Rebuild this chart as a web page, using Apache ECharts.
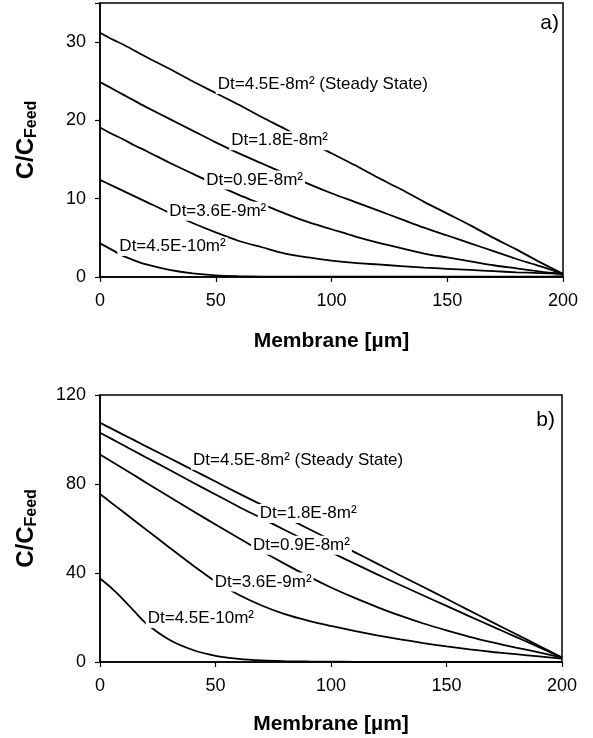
<!DOCTYPE html>
<html>
<head>
<meta charset="utf-8">
<script src="https://cdn.jsdelivr.net/npm/echarts@6.0.0/dist/echarts.min.js"></script>
<style>
  html, body { margin: 0; padding: 0; background: #fff; }
  #chart { width: 593px; height: 738px; }
</style>
</head>
<body>
<div id="chart"></div>
<script>
// membrane position [µm]
const membrane = [0, 5, 10, 15, 20, 30, 40, 50, 60, 70, 80, 90, 100, 110, 120, 130, 140, 150, 160, 170, 180, 190, 200]

const curveNames = [
  'Dt=4.5E-8m² (Steady State)',
  'Dt=1.8E-8m²',
  'Dt=0.9E-8m²',
  'Dt=3.6E-9m²',
  'Dt=4.5E-10m²'
]

// panel a) C/CFeed
const aSteady = [31.2, 30.4, 29.7, 28.9, 28.1, 26.6, 25.0, 23.5, 22.0, 20.4, 18.9, 17.3, 15.8, 14.3, 12.7, 11.2, 9.6, 8.1, 6.6, 5.0, 3.5, 1.9, 0.4]
const aDt18 = [24.9, 24.1, 23.3, 22.5, 21.7, 20.2, 18.7, 17.2, 15.8, 14.5, 13.2, 11.9, 10.7, 9.6, 8.5, 7.4, 6.3, 5.3, 4.3, 3.3, 2.3, 1.4, 0.4]
const aDt09 = [19.1, 18.3, 17.6, 16.8, 16.1, 14.6, 13.2, 11.8, 10.5, 9.3, 8.1, 7.0, 6.1, 5.2, 4.4, 3.7, 3.0, 2.5, 2.0, 1.5, 1.1, 0.7, 0.4]
const aDt36 = [12.4, 11.7, 11.0, 10.3, 9.6, 8.2, 6.9, 5.7, 4.6, 3.8, 3.0, 2.5, 2.1, 1.8, 1.6, 1.4, 1.2, 1.05, 0.9, 0.75, 0.6, 0.5, 0.4]
const aDt045 = [4.3, 3.5, 2.7, 2.1, 1.6, 0.9, 0.45, 0.2, 0.1, 0.06, 0.04, 0.03, 0.03, 0.03, 0.03, 0.03, 0.03, 0.03, 0.03, 0.03, 0.03, 0.03, 0.1]

// panel b) C/CFeed
const bSteady = [107.5, 104.9, 102.2, 99.6, 96.9, 91.7, 86.4, 81.1, 75.8, 70.6, 65.3, 60.0, 54.8, 49.5, 44.2, 38.9, 33.7, 28.4, 23.1, 17.8, 12.6, 7.3, 2.0]
const bDt18 = [103.0, 100.3, 97.5, 94.7, 91.9, 86.4, 80.8, 75.3, 69.8, 64.6, 59.3, 54.2, 49.3, 44.3, 39.4, 34.6, 29.9, 25.2, 20.5, 15.9, 11.3, 6.7, 2.0]
const bDt09 = [93.3, 90.1, 87.0, 83.8, 80.6, 74.3, 68.0, 61.8, 55.7, 49.8, 44.1, 38.6, 33.5, 28.9, 24.7, 20.8, 17.3, 14.2, 11.3, 8.8, 6.5, 4.3, 2.0]
const bDt36 = [75.5, 71.5, 67.5, 63.5, 59.5, 51.5, 43.6, 36.2, 30.2, 25.4, 21.5, 18.6, 16.2, 14.0, 12.0, 10.2, 8.5, 7.0, 5.7, 4.5, 3.5, 2.5, 1.5]
const bDt045 = [37.5, 33.2, 28.2, 22.6, 17.3, 10.0, 5.5, 2.8, 1.4, 0.7, 0.4, 0.25, 0.15, 0.1, 0.05, 0.05, 0.05, 0.05, 0.05, 0.05, 0.05, 0.05, 0.1]

// tick labels
const xTicks = [0, 50, 100, 150, 200]
const yTicksA = [0, 10, 20, 30]
const yTicksB = [0, 40, 80, 120]

const FONT = '"Liberation Sans", Arial, sans-serif'

// where each curve label sits (left edge, vertical centre) in data units
const labelAnchorsA = [[50, 24.6], [55.8, 17.4], [45, 12.4], [29.1, 8.4], [7.5, 3.9]]
const labelAnchorsB = [[39.4, 90.7], [68.3, 66.7], [65.4, 52.5], [48.8, 36], [19.8, 19.5]]

const makeSeries = (values, idx, gridIdx, anchor) => ({
  type: 'line',
  name: curveNames[idx],
  xAxisIndex: gridIdx,
  yAxisIndex: gridIdx,
  data: membrane.map((x, i) => [x, values[i]]),
  showSymbol: false,
  smooth: 0.3,
  silent: true,
  animation: false,
  lineStyle: { color: '#000', width: 1.8 },
  markPoint: {
    symbol: 'circle',
    symbolSize: 0,
    silent: true,
    animation: false,
    z: 10,
    data: [{
      coord: anchor,
      label: {
        show: true,
        formatter: curveNames[idx],
        position: 'right',
        distance: 0,
        color: '#000',
        fontSize: 17,
        fontFamily: FONT,
        backgroundColor: '#fff',
        padding: [1, 2]
      }
    }]
  }
})

const xAxisFor = (gridIdx, gap) => ({
  type: 'value',
  gridIndex: gridIdx,
  min: xTicks[0],
  max: xTicks[xTicks.length - 1],
  interval: xTicks[1] - xTicks[0],
  name: 'Membrane [µm]',
  nameLocation: 'middle',
  nameGap: gap,
  nameTextStyle: { fontSize: 21, fontWeight: 'bold', color: '#000', fontFamily: FONT },
  axisLine: { show: true, lineStyle: { color: '#000', width: 1.5 } },
  axisTick: { show: true, length: 5, lineStyle: { color: '#000', width: 1.2 } },
  axisLabel: { fontSize: 18, color: '#000', fontFamily: FONT, margin: 15 },
  splitLine: { show: false }
})

const yAxisFor = (gridIdx, ticks, max) => ({
  type: 'value',
  gridIndex: gridIdx,
  min: ticks[0],
  max: max,
  interval: ticks[1] - ticks[0],
  name: '{m|C/C}{s|Feed}',
  nameLocation: 'middle',
  nameRotate: 90,
  nameGap: 60,
  nameTextStyle: {
    color: '#000',
    rich: {
      m: { fontSize: 24, fontWeight: 'bold', fontFamily: FONT, color: '#000', lineHeight: 28 },
      s: { fontSize: 16, fontWeight: 'bold', fontFamily: FONT, color: '#000', lineHeight: 10, verticalAlign: 'bottom' }
    }
  },
  axisLine: { show: true, lineStyle: { color: '#000', width: 1.5 } },
  axisTick: { show: true, length: 5, lineStyle: { color: '#000', width: 1.2 } },
  axisLabel: {
    fontSize: 18, color: '#000', fontFamily: FONT, margin: 14,
    formatter: (v) => ticks.includes(v) ? String(v) : ''
  },
  splitLine: { show: false }
})

const chart = echarts.init(document.getElementById('chart'), null, { renderer: 'canvas' })

const aValues = [aSteady, aDt18, aDt09, aDt36, aDt045]
const bValues = [bSteady, bDt18, bDt09, bDt36, bDt045]

chart.setOption({
  backgroundColor: '#fff',
  animation: false,
  title: [
    { text: 'a)', right: 29, top: 8, textStyle: { fontSize: 21, fontWeight: 'normal', color: '#000', fontFamily: FONT } },
    { text: 'b)', right: 33, top: 405, textStyle: { fontSize: 21, fontWeight: 'normal', color: '#000', fontFamily: FONT } }
  ],
  grid: [
    { left: 100, top: 3, width: 463, height: 274, show: true, borderColor: '#000', borderWidth: 1.5, backgroundColor: 'transparent' },
    { left: 100, top: 395, width: 462, height: 267, show: true, borderColor: '#000', borderWidth: 1.5, backgroundColor: 'transparent' }
  ],
  xAxis: [xAxisFor(0, 54), xAxisFor(1, 52)],
  yAxis: [yAxisFor(0, yTicksA, 35), yAxisFor(1, yTicksB, 120)],
  series: [
    ...aValues.map((v, i) => makeSeries(v, i, 0, labelAnchorsA[i])),
    ...bValues.map((v, i) => makeSeries(v, i, 1, labelAnchorsB[i]))
  ]
})
</script>
</body>
</html>
